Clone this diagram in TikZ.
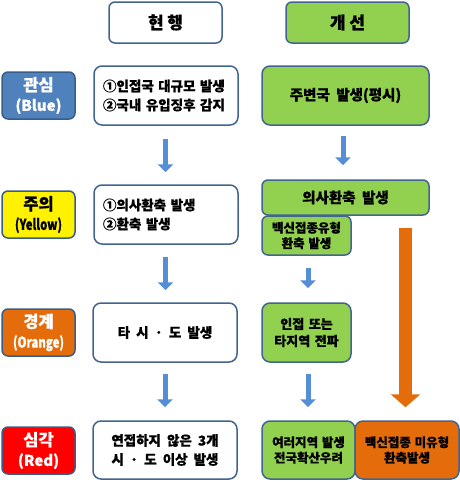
\documentclass[tikz,border=0pt]{standalone}
\usepackage{fontspec}
\setmainfont{Noto Sans CJK KR}[BoldFeatures={FakeBold=0.6}]
\usetikzlibrary{arrows.meta}
\definecolor{bordc}{HTML}{41658F}
\definecolor{labblue}{HTML}{4F81BD}
\definecolor{labblueb}{HTML}{385D8A}
\definecolor{green1}{HTML}{92D050}
\definecolor{orange1}{HTML}{E46C0A}
\definecolor{arrblue}{HTML}{558ED5}
\newcommand{\cond}[1]{\scalebox{0.76}[1]{#1}}
\newcommand{\fsz}[3]{\bfseries\fontsize{#1}{#2}\selectfont\fontdimen2\font=#3em\relax}
\tikzset{
  box/.style={draw=bordc, line width=1.5pt, rounded corners=8pt, fill=white, align=center,
    inner sep=0pt, font=\fsz{13.5}{19}{0.45}},
  hdr/.style={box, rounded corners=6pt, minimum width=113pt, minimum height=41pt,
    font=\fsz{17}{18}{0.22}},
  lab/.style={draw=labblueb, line width=1.5pt, rounded corners=6pt, minimum width=73pt,
    minimum height=47pt, align=center, inner sep=0pt, font=\fsz{16.5}{20}{0.3}},
  wide/.style={font=\fsz{14.5}{18}{0.45}},
  mid/.style={font=\fsz{13}{17}{0.35}},
  narrow/.style={font=\fsz{12.5}{15.5}{0.3}},
  barrow/.style={draw=arrblue, line width=5pt, -{Triangle[width=15pt,length=8pt]}},
  oarrow/.style={draw=orange1, line width=13pt, -{Triangle[width=29pt,length=13pt]}},
}
\begin{document}
\begin{tikzpicture}[x=1pt,y=-1pt]
\useasboundingbox (0,0) rectangle (460,482);
% headers
\node[hdr] (h1) at (165.5,22.5) {현 행};
\node[hdr, fill=green1, minimum width=123pt] (h2) at (347.5,22.5) {개 선};
% level labels
\node[lab, fill=labblue, text=white] (L1) at (38.5,95.5) {관심\\{\fontsize{15}{20}\selectfont(Blue)}};
\node[lab, fill=yellow, text=black] (L2) at (38.5,214.5) {주의\\{\fontsize{15}{20}\selectfont\cond{(Yellow)}}};
\node[lab, fill=orange1, text=white] (L3) at (38.5,332.5) {경계\\{\fontsize{15}{20}\selectfont\cond{(Orange)}}};
\node[lab, fill=red, text=white] (L4) at (38.5,450.5) {심각\\{\fontsize{15}{20}\selectfont(Red)}};
% current column
\node[box, minimum width=144pt, minimum height=59pt, text width=126pt, align=left] (c1) at (166,95.5) {①인접국 대규모 발생\\②국내 유입징후 감지};
\node[box, minimum width=144pt, minimum height=59pt, text width=126pt, align=left] (c2) at (166,214.5) {①의사환축 발생\\②환축 발생};
\node[box, minimum width=144pt, minimum height=59pt] (c3) at (165,332.5) {타 시 · 도 발생};
\node[box, minimum width=144pt, minimum height=58pt] (c4) at (165,450) {연접하지 않은 3개\\시 · 도 이상 발생};
% improved column
\node[box, wide, fill=green1, minimum width=167pt, minimum height=59pt] (r1) at (345.5,95.5) {주변국 발생(평시)};
\node[box, wide, fill=green1, minimum width=167pt, minimum height=35pt, rounded corners=6pt] (r2a) at (345.5,197.5) {의사환축 발생};
\node[box, narrow, fill=green1, minimum width=89pt, minimum height=39pt, rounded corners=6pt] (r2b) at (306.5,235.5) {백신접종유형\\환축 발생};
\node[box, mid, fill=green1, minimum width=89pt, minimum height=59pt] (r3) at (306.5,332.5) {인접 또는\\타지역 전파};
\node[box, narrow, fill=green1, minimum width=93pt, minimum height=58pt] (r4a) at (308.5,450) {여러지역 발생\\전국확산우려};
\node[box, narrow, fill=orange1, minimum width=104pt, minimum height=58pt] (r4b) at (407,450) {백신접종 미유형\\환축발생};
% arrows
\draw[barrow] ([xshift=-0.5pt,yshift=-13pt]c1.south) -- ([xshift=-0.5pt,yshift=12pt]c2.north);
\draw[barrow] ([xshift=-2.5pt,yshift=-10pt]r1.south) -- ([xshift=-2.5pt,yshift=14pt]r1.south |- r2a.north);
\draw[barrow] ([xshift=-0.5pt,yshift=-12pt]c2.south) -- ([xshift=0.5pt,yshift=12pt]c3.north);
\draw[barrow] ([xshift=1.5pt,yshift=-12pt]r2b.south) -- ([xshift=1.5pt,yshift=14pt]r3.north);
\draw[barrow] ([yshift=-11pt]c3.south) -- ([yshift=13pt]c4.north);
\draw[barrow] ([xshift=1.5pt,yshift=-11pt]r3.south) -- ([xshift=1.5pt,yshift=13pt]r3.south |- r4a.north);
\draw[oarrow] ([xshift=-1.5pt,yshift=-12pt]r4b.north |- r2a.south) -- ([xshift=-1.5pt,yshift=13pt]r4b.north);
\end{tikzpicture}
\end{document}
